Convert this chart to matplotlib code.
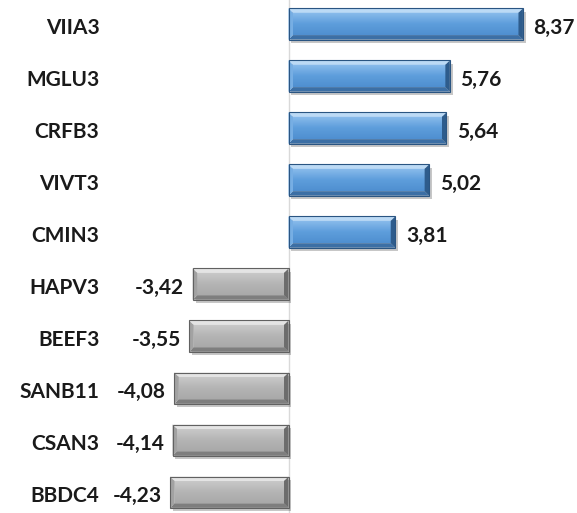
import numpy as np
import matplotlib
matplotlib.use("Agg")
from matplotlib import pyplot as plt
from matplotlib.patches import Rectangle, Polygon
from matplotlib.colors import LinearSegmentedColormap

# dados
tickers = ["VIIA3", "MGLU3", "CRFB3", "VIVT3", "CMIN3",
           "HAPV3", "BEEF3", "SANB11", "CSAN3", "BBDC4"]
valores = [8.37, 5.76, 5.64, 5.02, 3.81,
           -3.42, -3.55, -4.08, -4.14, -4.23]
rotulos = ["8,37", "5,76", "5,64", "5,02", "3,81",
           "-3,42", "-3,55", "-4,08", "-4,14", "-4,23"]

plt.rcParams['font.family'] = ['Lato', 'DejaVu Sans']

fig = plt.figure(figsize=(5.77, 5.13), dpi=100)
ax = fig.add_axes([0, 0, 1, 1])

y = np.arange(len(tickers))
h = 0.6
bars = ax.barh(y, valores, height=h, color='none', edgecolor='none', zorder=3)

# cores do "bisel": face (topo, base), topo, base, esquerda, direita, contorno
estilo = {
    'azul': dict(face=["#8cbdec", "#5e9edc", "#4f8fd0"], topo="#bcdaf5", base="#3c6fa5",
                 esq="#76aee4", dir="#2e5c8c", borda="#2a5582"),
    'cinza': dict(face=["#cacaca", "#b5b5b5", "#a9a9a9"], topo="#e4e4e4", base="#7e7e7e",
                  esq="#a2a2a2", dir="#6c6c6c", borda="#616161"),
}

grad = np.linspace(0, 1, 64).reshape(-1, 1)
dx, dy = 0.16, 0.085
for b, v in zip(bars, valores):
    x0 = min(b.get_x(), b.get_x() + b.get_width())
    x1 = max(b.get_x(), b.get_x() + b.get_width())
    y0 = b.get_y()          # topo (eixo invertido)
    y1 = y0 + b.get_height()  # base
    e = estilo['azul'] if v > 0 else estilo['cinza']
    # sombra
    ax.add_patch(Rectangle((x0 + 0.1, y0 + 0.07), x1 - x0, y1 - y0,
                           facecolor='black', alpha=0.22, edgecolor='none', zorder=2))
    # face com gradiente
    cmap = LinearSegmentedColormap.from_list("f", e['face'])
    im = ax.imshow(grad, cmap=cmap, aspect='auto', zorder=3,
                   extent=[x0 + dx, x1 - dx, y1 - dy, y0 + dy], interpolation='bicubic')
    # bisel
    ax.add_patch(Polygon([(x0, y0), (x1, y0), (x1 - dx, y0 + dy), (x0 + dx, y0 + dy)],
                         facecolor=e['topo'], edgecolor='none', zorder=3))
    ax.add_patch(Polygon([(x0, y1), (x1, y1), (x1 - dx, y1 - dy), (x0 + dx, y1 - dy)],
                         facecolor=e['base'], edgecolor='none', zorder=3))
    ax.add_patch(Polygon([(x0, y0), (x0 + dx, y0 + dy), (x0 + dx, y1 - dy), (x0, y1)],
                         facecolor=e['esq'], edgecolor='none', zorder=3))
    ax.add_patch(Polygon([(x1, y0), (x1 - dx, y0 + dy), (x1 - dx, y1 - dy), (x1, y1)],
                         facecolor=e['dir'], edgecolor='none', zorder=3))
    ax.add_patch(Rectangle((x0, y0), x1 - x0, y1 - y0, facecolor='none',
                           edgecolor=e['borda'], linewidth=0.8, zorder=4))

# linha do zero
ax.axvline(0, color='#d9d9d9', linewidth=1, zorder=1)

fs = 15
for i, (v, r) in enumerate(zip(valores, rotulos)):
    if v > 0:
        ax.text(v + 0.38, i + 0.07, r, ha='left', va='center',
                fontsize=fs, fontweight='bold', color='#1a1a1a')
    else:
        ax.text(v - 0.3, i + 0.07, r, ha='right', va='center',
                fontsize=fs, fontweight='bold', color='#1a1a1a')
    ax.text(-6.75, i + 0.07, tickers[i], ha='right', va='center',
            fontsize=fs, fontweight='bold', color='#1a1a1a')

ax.set_xlim(-10.3, 10.3)
ax.set_ylim(9.4, -0.46)
ax.axis('off')

fig.savefig("out.png", dpi=100)
